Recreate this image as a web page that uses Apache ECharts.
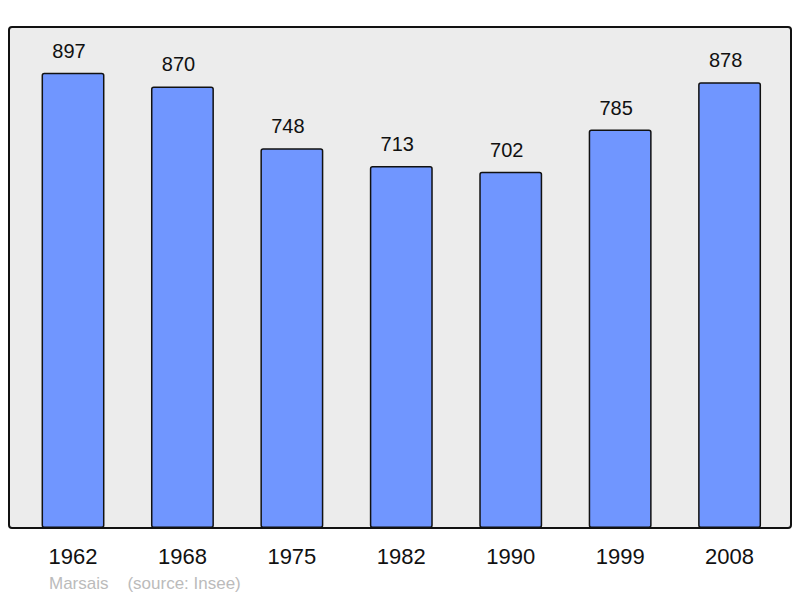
<!DOCTYPE html>
<html><head><meta charset="utf-8">
<script src="https://cdn.jsdelivr.net/npm/echarts@6/dist/echarts.min.js"></script>
<style>html,body{margin:0;padding:0;background:#fff}#c{width:800px;height:598px}</style>
</head><body><div id="c"></div>
<script>
const years = ['1962','1968','1975','1982','1990','1999','2008'];
const population = [897, 870, 748, 713, 702, 785, 878];
const placeName = 'Marsais';
const sourceText = '(source: Insee)';

const chart = echarts.init(document.getElementById('c'), null, {renderer:'svg'});
chart.setOption({
  animation: false,
  graphic: [
    {type:'rect', z:-1, shape:{x:9, y:27, width:782, height:501, r:3},
     style:{fill:'#ececec', stroke:'#111', lineWidth:2}},
    {type:'text', left:49, top:575,
     style:{text: placeName + '    ' + sourceText, fill:'#bbbbbb', font:'17px "Liberation Sans", Arial, sans-serif'}}
  ],
  grid: {left:18.3, right:15.7, top:27, bottom:70},
  xAxis: {
    type:'category', data: years,
    axisLine:{show:false}, axisTick:{show:false},
    axisLabel:{color:'#111', fontSize:22, fontFamily:'"Liberation Sans", Arial, sans-serif', margin:17}
  },
  yAxis: {type:'value', min:0, max:987, show:false, splitLine:{show:false}},
  series: [{
    type:'bar', data: population, barWidth:'57.5%',
    itemStyle:{color:'#7096ff', borderColor:'#111', borderWidth:1.5, borderRadius:2},
    label:{show:true, position:'top', distance:12, offset:[-4,0], color:'#111', fontSize:20,
      fontFamily:'"Liberation Sans", Arial, sans-serif'}
  }]
});
</script></body></html>
